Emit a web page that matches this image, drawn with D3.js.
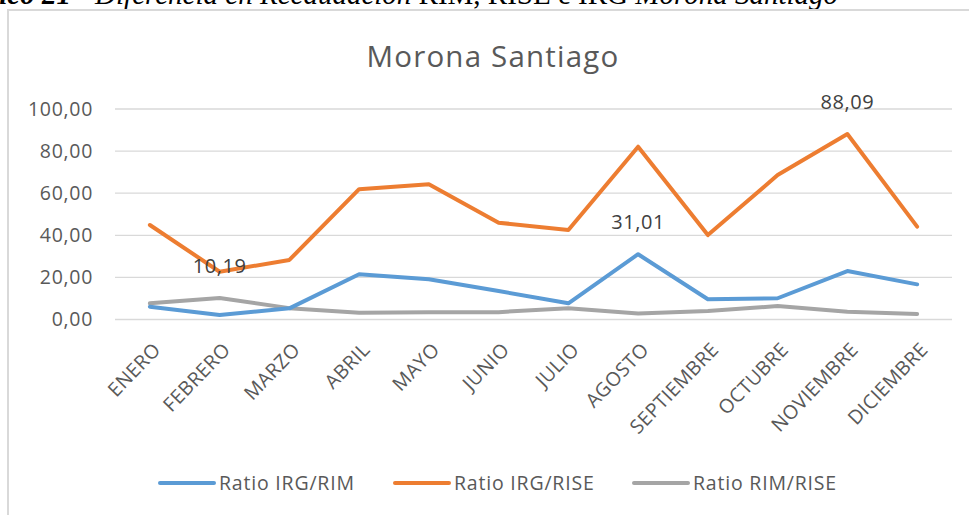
<!DOCTYPE html>
<html>
<head>
<meta charset="utf-8">
<script src="https://cdn.jsdelivr.net/npm/d3@7"></script>
<style>
  body { margin: 0; background: #fff; }
  svg { display: block; }
</style>
</head>
<body>
<div id="chart"></div>
<script>
// data
var months = ["ENERO","FEBRERO","MARZO","ABRIL","MAYO","JUNIO","JULIO","AGOSTO","SEPTIEMBRE","OCTUBRE","NOVIEMBRE","DICIEMBRE"];
var irgRim  = [6.1, 2.1, 5.3, 21.5, 19.1, 13.5, 7.7, 31.01, 9.6, 10.1, 23.0, 16.7];
var irgRise = [44.9, 22.7, 28.3, 61.9, 64.2, 46.0, 42.5, 82.1, 40.1, 68.6, 88.09, 44.1];
var rimRise = [7.7, 10.19, 5.4, 3.2, 3.5, 3.5, 5.4, 2.9, 4.0, 6.4, 3.7, 2.6];
var seriesNames = ["Ratio IRG/RIM", "Ratio IRG/RISE", "Ratio RIM/RISE"];
var seriesColors = ["#5b9bd5", "#ed7d31", "#a5a5a5"];
var yTicks = [0, 20, 40, 60, 80, 100];
// labelled points: [series index, month index]
var shownLabels = [[2, 1], [0, 7], [1, 10]];

var width = 969, height = 515;
var margin = {left: 115, right: 17, top: 109, bottom: 195};
var font = "'Open Sans', Lato, sans-serif";

var svg = d3.select("#chart").append("svg")
  .attr("width", width).attr("height", height);

var fmt = function(v){ return d3.format(".2f")(v).replace(".", ","); };

// caption line from the document, cut off at the top
var cap = svg.append("text")
  .attr("x", 838).attr("y", 4)
  .attr("text-anchor", "end")
  .style("font-family", "'Liberation Serif', 'Times New Roman', serif")
  .style("font-size", "29px")
  .style("font-style", "italic")
  .attr("fill", "#000");
cap.append("tspan").style("font-weight", "bold").text("Gráfico 21");
cap.append("tspan").text(" - Diferencia en Recaudación ");
cap.append("tspan").style("font-style", "normal").text("RIM, RISE e IRG ");
cap.append("tspan").text("Morona Santiago");

// chart frame
svg.append("path")
  .attr("d", "M8," + (height + 5) + "V10H" + (width + 5))
  .attr("fill", "none")
  .attr("stroke", "#d9d9d9")
  .attr("stroke-width", 2);

svg.append("text")
  .attr("x", 493).attr("y", 67)
  .attr("text-anchor", "middle")
  .style("font-family", font)
  .style("font-size", "29.5px")
  .style("letter-spacing", "1.2px")
  .attr("fill", "#595959")
  .text("Morona Santiago");

var x = d3.scaleBand()
  .domain(months)
  .range([margin.left, width - margin.right]);

var y = d3.scaleLinear()
  .domain([0, 100])
  .range([319.5, margin.top]);

// gridlines
svg.append("g")
  .selectAll("line")
  .data(yTicks)
  .join("line")
  .attr("x1", margin.left).attr("x2", width - margin.right)
  .attr("y1", function(d){ return y(d); })
  .attr("y2", function(d){ return y(d); })
  .attr("stroke", "#d9d9d9")
  .attr("stroke-width", 1.3);

// y axis labels
var yAxis = svg.append("g")
  .attr("transform", "translate(" + (margin.left - 22) + ",0)")
  .call(d3.axisLeft(y).tickValues(yTicks).tickSize(0).tickPadding(0).tickFormat(fmt));
yAxis.select(".domain").remove();
yAxis.selectAll("text")
  .style("font-family", font)
  .style("font-size", "19.5px")
  .style("letter-spacing", "0.7px")
  .attr("fill", "#595959");

// x axis labels, rotated
var xAxis = svg.append("g")
  .attr("transform", "translate(0,332)")
  .call(d3.axisBottom(x).tickSize(0).tickPadding(0));
xAxis.select(".domain").remove();
xAxis.selectAll("text")
  .style("font-family", font)
  .style("font-size", "19.5px")
  .style("letter-spacing", "0.4px")
  .attr("fill", "#595959")
  .attr("text-anchor", "end")
  .attr("dy", "0.35em")
  .attr("transform", "translate(7,14) rotate(-46)");

var line = d3.line()
  .x(function(d, i){ return x(months[i]) + x.bandwidth() / 2; })
  .y(function(d){ return y(d); });

var allSeries = [irgRim, irgRise, rimRise];
// gray at the back, blue on top
svg.append("g")
  .selectAll("path")
  .data([2, 1, 0])
  .join("path")
  .attr("d", function(s){ return line(allSeries[s]); })
  .attr("fill", "none")
  .attr("stroke", function(s){ return seriesColors[s]; })
  .attr("stroke-width", 4)
  .attr("stroke-linejoin", "round")
  .attr("stroke-linecap", "round");

// data labels
svg.append("g")
  .selectAll("text")
  .data(shownLabels)
  .join("text")
  .attr("x", function(d){ return x(months[d[1]]) + x.bandwidth() / 2; })
  .attr("y", function(d){ return y(allSeries[d[0]][d[1]]) - 25; })
  .attr("text-anchor", "middle")
  .style("font-family", font)
  .style("font-size", "20px")
  .style("letter-spacing", "0.6px")
  .attr("fill", "#404040")
  .text(function(d){ return fmt(allSeries[d[0]][d[1]]); });

// legend
var legendX = [160, 395, 634];
var legend = svg.append("g")
  .selectAll("g")
  .data(seriesNames)
  .join("g")
  .attr("transform", function(d, i){ return "translate(" + legendX[i] + ",483)"; });
legend.append("line")
  .attr("x1", 0).attr("x2", 54)
  .attr("stroke", function(d, i){ return seriesColors[i]; })
  .attr("stroke-width", 4)
  .attr("stroke-linecap", "round");
legend.append("text")
  .attr("x", 59).attr("dy", "0.35em")
  .style("font-family", font)
  .style("font-size", "19.5px")
  .style("letter-spacing", "0.8px")
  .attr("fill", "#595959")
  .text(function(d){ return d; });
</script>
</body>
</html>
